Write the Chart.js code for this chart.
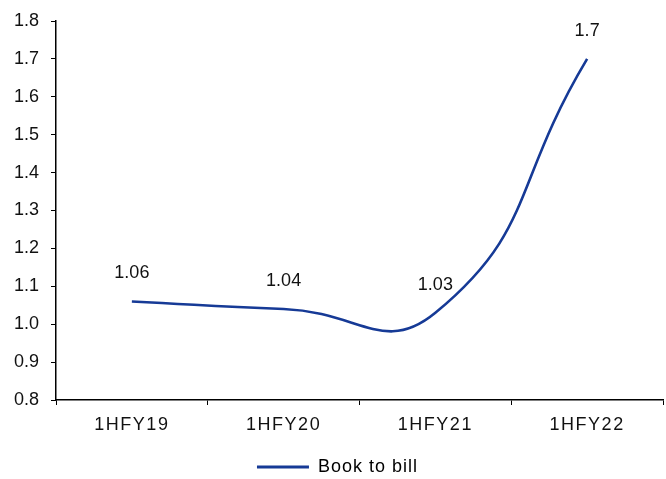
<!DOCTYPE html>
<html>
<head>
<meta charset="utf-8">
<script src="https://cdn.jsdelivr.net/npm/chart.js@4.4.1/dist/chart.umd.min.js"></script>
<style>
  html, body { margin: 0; padding: 0; background: #fff; }
  #wrap { width: 666px; height: 479px; }
</style>
</head>
<body>
<div id="wrap"><canvas id="c" width="666" height="479"></canvas></div>
<script>
const categories = ['1HFY19', '1HFY20', '1HFY21', '1HFY22'];
const bookToBill = [1.06, 1.04, 1.03, 1.7];
const valueLabels = ['1.06', '1.04', '1.03', '1.7'];

const LINE_COLOR = '#163a96';
const TEXT_COLOR = '#111';
const FONT_FAMILY = '"Liberation Sans", Arial, sans-serif';
const FONT = { family: FONT_FAMILY, size: 18 };
const AXIS_SPACING = '1.5px';
const LEGEND_SPACING = '1px';

// Category axis whose labels are set with a little extra tracking
class TrackedCategoryScale extends Chart.CategoryScale {
  static id = 'trackedCategory';
  static defaults = Chart.CategoryScale.defaults;
  drawLabels(area) {
    const ctx = this.ctx;
    ctx.save();
    ctx.letterSpacing = AXIS_SPACING;
    super.drawLabels(area);
    ctx.restore();
  }
}

// Value axis drawn with normal tracking
class PlainLinearScale extends Chart.LinearScale {
  static id = 'plainLinear';
  static defaults = Chart.LinearScale.defaults;
  drawLabels(area) {
    const ctx = this.ctx;
    ctx.save();
    ctx.letterSpacing = '0px';
    super.drawLabels(area);
    ctx.restore();
  }
}
Chart.register(TrackedCategoryScale, PlainLinearScale);

// Legend text is set slightly wider than normal
const tracking = {
  id: 'tracking',
  beforeDraw(chart) { chart.ctx.letterSpacing = LEGEND_SPACING; }
};

// Writes each value just above its point
const pointLabels = {
  id: 'pointLabels',
  afterDatasetsDraw(chart) {
    const ctx = chart.ctx;
    const meta = chart.getDatasetMeta(0);
    ctx.save();
    ctx.letterSpacing = '0px';
    ctx.font = `${FONT.size}px ${FONT.family}`;
    ctx.fillStyle = TEXT_COLOR;
    ctx.textAlign = 'center';
    ctx.textBaseline = 'middle';
    meta.data.forEach((pt, i) => {
      ctx.fillText(valueLabels[i], pt.x, pt.y - 28);
    });
    ctx.restore();
  }
};

new Chart(document.getElementById('c'), {
  type: 'line',
  data: {
    labels: categories,
    datasets: [{
      label: 'Book to bill',
      data: bookToBill,
      borderColor: LINE_COLOR,
      backgroundColor: LINE_COLOR,
      borderWidth: 2.6,
      tension: 0.5,
      pointRadius: 0,
      fill: false
    }]
  },
  options: {
    responsive: false,
    animation: false,
    layout: { padding: { top: 8, right: 3, left: 0, bottom: 0 } },
    plugins: {
      tooltip: { enabled: false },
      legend: {
        position: 'bottom',
        maxHeight: 21,
        labels: {
          font: { family: FONT_FAMILY, size: 18, lineHeight: 1 },
          color: TEXT_COLOR,
          boxWidth: 52,
          boxHeight: 3,
          padding: 0,
          generateLabels(chart) {
            return chart.data.datasets.map((ds, i) => ({
              text: ds.label,
              fillStyle: LINE_COLOR,
              strokeStyle: LINE_COLOR,
              lineWidth: 0,
              datasetIndex: i
            }));
          }
        }
      }
    },
    scales: {
      x: {
        type: 'trackedCategory',
        offset: true,
        grid: {
          display: true,
          offset: true,
          drawOnChartArea: false,
          drawTicks: true,
          tickLength: 5,
          color: '#000'
        },
        border: { display: true, color: '#000', width: 1.5 },
        ticks: { font: FONT, color: TEXT_COLOR, padding: 9, maxRotation: 0 },
        afterFit(scale) { scale.height = 58; }
      },
      y: {
        type: 'plainLinear',
        min: 0.8,
        max: 1.8,
        grid: {
          display: true,
          drawOnChartArea: false,
          drawTicks: true,
          tickLength: 5,
          color: '#000'
        },
        border: { display: true, color: '#000', width: 1.5 },
        ticks: {
          stepSize: 0.1,
          font: { family: FONT_FAMILY, size: 18, lineHeight: 1 },
          color: TEXT_COLOR,
          padding: 12,
          callback: (v) => Number(v).toFixed(1)
        },
        afterFit(scale) { scale.width = 56; }
      }
    }
  },
  plugins: [tracking, pointLabels]
});
</script>
</body>
</html>
